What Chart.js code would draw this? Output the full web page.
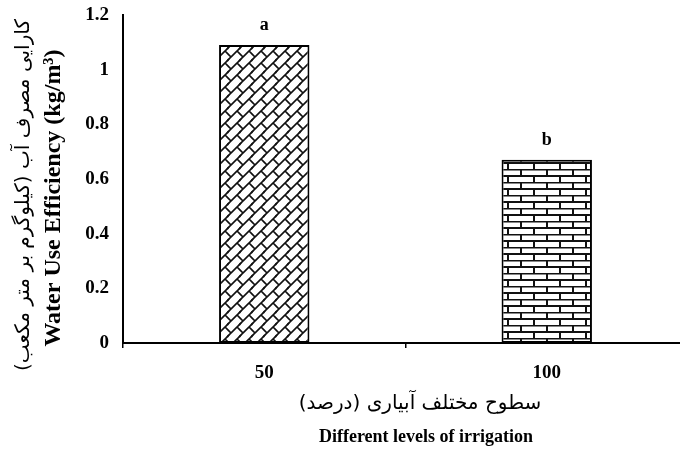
<!DOCTYPE html>
<html>
<head>
<meta charset="utf-8">
<script src="https://cdn.jsdelivr.net/npm/chart.js@4.4.1/dist/chart.umd.min.js"></script>
<style>
  html, body { margin: 0; padding: 0; overflow: hidden; background: #fff; }
  #wrap { width: 692px; height: 452px; }
</style>
</head>
<body>
<div id="wrap"><canvas id="myChart" width="692" height="452"></canvas></div>
<script>
// irrigation levels (%) and water use efficiency (kg/m3)
const levels = ['50', '100'];
const efficiency = [1.09, 0.67];
const groupLetters = ['a', 'b'];
const yTicks = [0, 0.2, 0.4, 0.6, 0.8, 1, 1.2];

const yTitleFa = 'کارایی مصرف آب (کیلوگرم بر متر مکعب)';
const yTitleEn = 'Water Use Efficiency (kg/m³)';
const xTitleFa = 'سطوح مختلف آبیاری (درصد)';
const xTitleEn = 'Different levels of irrigation';

const serif = '"Liberation Serif", "Times New Roman", serif';

// weave hatch for the first bar
function weavePattern() {
  const s = 12;
  const c = document.createElement('canvas');
  c.width = s; c.height = s;
  const g = c.getContext('2d');
  g.fillStyle = '#fff';
  g.fillRect(0, 0, s, s);
  g.strokeStyle = '#111';
  g.lineWidth = 1.6;
  const segs = [
    [-1, s + 1, s + 1, -1],
    [s * 0.75, s * 0.25, s * 1.25, s * 0.75]
  ];
  for (let dx = -s; dx <= s; dx += s) {
    for (let dy = -s; dy <= s; dy += s) {
      segs.forEach(p => {
        g.beginPath();
        g.moveTo(p[0] + dx, p[1] + dy);
        g.lineTo(p[2] + dx, p[3] + dy);
        g.stroke();
      });
    }
  }
  return g.createPattern(c, 'repeat');
}

// brick hatch for the second bar
function brickPattern() {
  const w = 26, h = 13;
  const c = document.createElement('canvas');
  c.width = w; c.height = h;
  const g = c.getContext('2d');
  g.fillStyle = '#fff';
  g.fillRect(0, 0, w, h);
  g.strokeStyle = '#111';
  g.lineWidth = 2;
  g.beginPath();
  g.moveTo(0, 0.5); g.lineTo(w, 0.5);
  g.moveTo(0, 7); g.lineTo(w, 7);
  g.moveTo(1, 0); g.lineTo(1, 7);
  g.moveTo(14, 7); g.lineTo(14, h);
  g.stroke();
  return g.createPattern(c, 'repeat');
}

const labelsPlugin = {
  id: 'labelsPlugin',
  afterDraw(chart) {
    const ctx = chart.ctx;
    ctx.save();
    ctx.fillStyle = '#000';
    ctx.textAlign = 'center';
    ctx.textBaseline = 'middle';

    // letters above bars
    ctx.font = 'bold 18px ' + serif;
    chart.getDatasetMeta(0).data.forEach((bar, i) => {
      ctx.fillText(groupLetters[i], bar.x, bar.y - 20);
    });

    // x axis titles
    ctx.font = '20px "DejaVu Sans"';
    ctx.direction = 'rtl';
    ctx.fillText(xTitleFa, 420, 404);
    ctx.direction = 'ltr';
    ctx.font = 'bold 18px ' + serif;
    ctx.fillText(xTitleEn, 426, 437);

    // y axis titles, rotated
    ctx.save();
    ctx.translate(24, 195);
    ctx.rotate(-Math.PI / 2);
    ctx.direction = 'rtl';
    ctx.font = '20px "DejaVu Sans"';
    ctx.fillText(yTitleFa, 0, 0);
    ctx.restore();

    ctx.save();
    ctx.translate(54, 198);
    ctx.rotate(-Math.PI / 2);
    ctx.font = 'bold 24px ' + serif;
    ctx.fillText(yTitleEn, 0, 0);
    ctx.restore();

    ctx.restore();
  }
};

const myChart = document.getElementById('myChart');

let barChart = new Chart(myChart, {
  type: 'bar',
  data: {
    labels: levels,
    datasets: [{
      data: efficiency,
      backgroundColor: [weavePattern(), brickPattern()],
      borderColor: '#000',
      borderWidth: 2,
      borderSkipped: false,
      barPercentage: 0.32,
      categoryPercentage: 1
    }]
  },
  options: {
    responsive: false,
    animation: false,
    layout: { padding: { left: 0, top: 15, right: 4, bottom: 0 } },
    plugins: {
      legend: { display: false },
      tooltip: { enabled: false }
    },
    scales: {
      x: {
        offset: true,
        grid: {
          display: true,
          drawOnChartArea: false,
          drawTicks: true,
          tickLength: 5,
          color: '#000',
          lineWidth: 1.5
        },
        border: { display: true, color: '#000', width: 2 },
        ticks: {
          color: '#000',
          font: { family: serif, size: 19, weight: 'bold' },
          padding: 14
        },
        afterFit: s => { s.height = 109; }
      },
      y: {
        min: 0,
        max: 1.2,
        afterBuildTicks: s => { s.ticks = yTicks.map(v => ({ value: v })); },
        grid: { display: false, drawTicks: false },
        border: { display: true, color: '#000', width: 2 },
        ticks: {
          color: '#000',
          font: { family: serif, size: 19, weight: 'bold' },
          padding: 14,
          callback: v => String(v)
        },
        // fixed width, and let the top label hang into the padding
        afterFit: s => {
          s.width = 123;
          s.paddingTop = 0;
          s.paddingBottom = 0;
        }
      }
    }
  },
  plugins: [labelsPlugin]
});
</script>
</body>
</html>
